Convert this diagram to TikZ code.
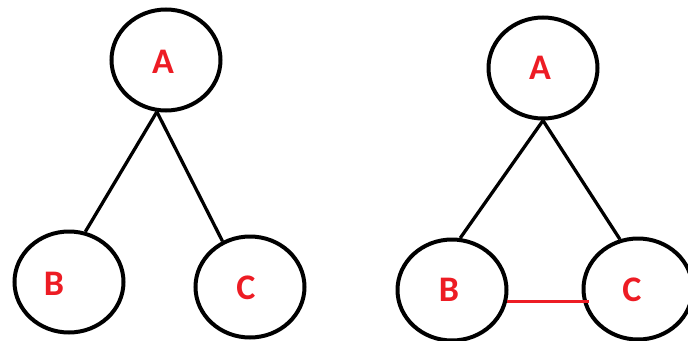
\documentclass[tikz,border=0pt]{standalone}
\usepackage{fontspec}
\setmainfont{Carlito}
\usetikzlibrary{shapes.geometric}

\begin{document}
\begin{tikzpicture}[x=1pt, y=-1pt, font=\fontsize{36}{36}\selectfont\bfseries,
  Vertex/.style={draw, ellipse, line width=4pt, minimum width=109pt, minimum height=101pt, inner sep=0pt},
  Letter/.style={text={rgb,255:red,237;green,28;blue,36}, inner sep=0pt},
  Edge/.style={line width=3.3pt},
  Link/.style={draw={rgb,255:red,237;green,28;blue,36}, line width=3.5pt}]

\useasboundingbox (0,0) rectangle (688,340);

\foreach \x/\y/\name/\txt/\dx/\dy in {166/60/a1/A/-3/-2, 69/282/b1/B/-15/-2, 250/287/c1/C/-4/-1,
                                      543/68/a2/A/-3/0, 452/290/b2/B/-3/0, 638/289/c2/C/-6/-1} {
  \node [Vertex, label={[Letter, xshift=\dx pt, yshift=\dy pt]center:\txt}] (\name) at (\x, \y) {};
}

\draw [Edge] (a1.260) -- (b1.72);
\draw [Edge] (a1.260) -- (c1.121);

\draw [Edge] (a2.south) -- (b2.81);
\draw [Edge] (a2.south) -- (c2.110);
\draw [Link, shorten >=-7pt] (b2.-12) -- (b2.-12 -| c2.west);
\end{tikzpicture}
\end{document}
